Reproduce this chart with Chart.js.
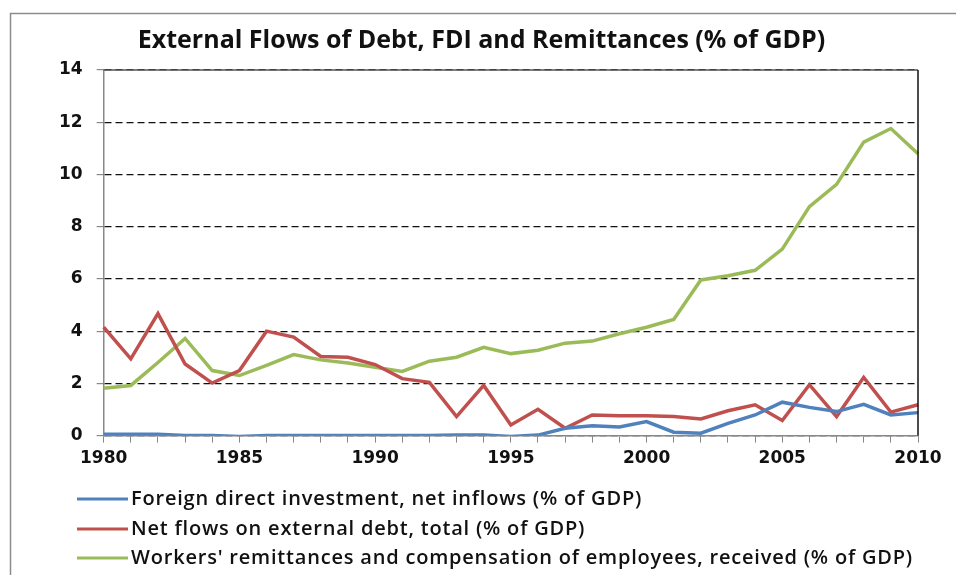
<!DOCTYPE html>
<html>
<head>
<meta charset="utf-8">
<script src="https://cdn.jsdelivr.net/npm/chart.js@4"></script>
<style>
	html, body { margin: 0; padding: 0; background: #fff; }
	canvas { display: block; }
</style>
</head>
<body>
<canvas id="flowsChart" width="956" height="575"></canvas>
<script>
var years = [1980, 1981, 1982, 1983, 1984, 1985, 1986, 1987, 1988, 1989,
	1990, 1991, 1992, 1993, 1994, 1995, 1996, 1997, 1998, 1999,
	2000, 2001, 2002, 2003, 2004, 2005, 2006, 2007, 2008, 2009, 2010];

// Foreign direct investment, net inflows (% of GDP)
var fdi = [0.05, 0.05, 0.05, 0.0, 0.0, -0.03, 0.0, 0.0, 0.0, 0.0,
	0.0, 0.0, 0.0, 0.02, 0.02, -0.03, 0.02, 0.28, 0.38, 0.33,
	0.54, 0.13, 0.09, 0.47, 0.79, 1.28, 1.08, 0.92, 1.2, 0.79, 0.88];

// Net flows on external debt, total (% of GDP)
var debt = [4.15, 2.94, 4.67, 2.74, 2.01, 2.49, 4.0, 3.77, 3.03, 3.0,
	2.72, 2.18, 2.04, 0.73, 1.92, 0.41, 1.01, 0.28, 0.79, 0.76,
	0.76, 0.73, 0.64, 0.95, 1.18, 0.58, 1.95, 0.73, 2.23, 0.9, 1.18];

// Workers' remittances and compensation of employees, received (% of GDP)
var remit = [1.81, 1.92, 2.8, 3.72, 2.49, 2.3, 2.69, 3.1, 2.9, 2.78,
	2.62, 2.46, 2.85, 3.0, 3.38, 3.14, 3.27, 3.54, 3.62, 3.9,
	4.15, 4.45, 5.96, 6.12, 6.33, 7.14, 8.77, 9.62, 11.24, 11.76, 10.79];

var seriesLabels = [
	'Foreign direct investment, net inflows (% of GDP)',
	'Net flows on external debt, total (% of GDP)',
	"Workers' remittances and compensation of employees, received (% of GDP)"
];
var yTicks = [0, 2, 4, 6, 8, 10, 12, 14];

var tickFont = { family: 'DejaVu Sans', size: 17, weight: 'bold' };

// outer frame + white background
var framePlugin = {
	id: 'frame',
	beforeDraw: function (chart) {
		var c = chart.ctx;
		c.save();
		c.fillStyle = '#fff';
		c.fillRect(0, 0, chart.width, chart.height);
		c.strokeStyle = '#8c8c8c';
		c.lineWidth = 1.5;
		c.strokeRect(10.5, 13.5, chart.width + 20, chart.height + 20);
		c.restore();
	},
	afterDatasetsDraw: function (chart) {
		// top and right edges of the plot area
		var a = chart.chartArea, c = chart.ctx;
		c.save();
		c.strokeStyle = '#555';
		c.lineWidth = 1.5;
		c.beginPath();
		c.moveTo(a.left, a.top);
		c.lineTo(a.right, a.top);
		c.stroke();
		c.strokeStyle = '#111';
		c.beginPath();
		c.moveTo(a.right, a.top);
		c.lineTo(a.right, a.bottom);
		c.stroke();
		c.restore();
	}
};

// left aligned legend, one item per row
var rowLegend = {
	id: 'rowLegend',
	afterDraw: function (chart) {
		var c = chart.ctx;
		var rows = [499, 529, 558];
		c.save();
		c.font = '600 20px "Open Sans"';
		c.letterSpacing = '0.8px';
		c.textBaseline = 'middle';
		c.fillStyle = '#111';
		chart.data.datasets.forEach(function (ds, i) {
			c.strokeStyle = ds.borderColor;
			c.lineWidth = 3;
			c.beginPath();
			c.moveTo(77, rows[i]);
			c.lineTo(128, rows[i]);
			c.stroke();
			c.fillText(ds.label, 131, rows[i]);
		});
		c.restore();
	}
};

var ctx = document.getElementById('flowsChart').getContext('2d');
var flowsChart = new Chart(ctx, {
	type: 'line',
	data: {
		labels: years,
		datasets: [{
			label: seriesLabels[0],
			data: fdi,
			borderColor: '#4f81bd'
		}, {
			label: seriesLabels[1],
			data: debt,
			borderColor: '#c0504d'
		}, {
			label: seriesLabels[2],
			data: remit,
			borderColor: '#9bbb59'
		}]
	},
	options: {
		responsive: false,
		devicePixelRatio: 1,
		animation: false,
		elements: {
			line: { borderWidth: 3.5, tension: 0 },
			point: { radius: 0 }
		},
		layout: {
			padding: { left: 45, right: 38, top: 20, bottom: 100 }
		},
		plugins: {
			legend: { display: false },
			tooltip: { enabled: false },
			title: {
				display: true,
				text: 'External Flows of Debt, FDI and Remittances (% of GDP)',
				color: '#111',
				font: { family: 'Open Sans', size: 25, weight: 'bold' },
				padding: { top: 6, bottom: 14 }
			}
		},
		scales: {
			x: {
				offset: false,
				grid: {
					drawOnChartArea: false,
					tickLength: 7,
					color: '#888'
				},
				border: { color: '#888', width: 1.5 },
				ticks: {
					autoSkip: false,
					maxRotation: 0,
					padding: 6,
					color: '#111',
					font: tickFont,
					callback: function (v, i) {
						var y = years[i];
						return y % 5 === 0 ? String(y) : '';
					}
				}
			},
			y: {
				min: 0,
				max: 14,
				afterBuildTicks: function (scale) {
					scale.ticks = yTicks.map(function (v) { return { value: v }; });
				},
				grid: {
					color: '#111',
					lineWidth: 1.2,
					tickLength: 7,
					tickColor: '#888',
					tickBorderDash: [],
					drawTicks: true
				},
				border: { color: '#888', width: 1.5, dash: [7, 4] },
				ticks: {
					padding: 14,
					color: '#111',
					font: tickFont
				}
			}
		}
	},
	plugins: [framePlugin, rowLegend]
});
</script>
</body>
</html>
